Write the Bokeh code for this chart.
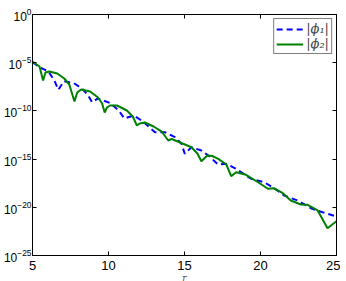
from bokeh.plotting import figure
from bokeh.models import (Range1d, LogAxis, LinearAxis, FixedTicker, CustomJSTickFormatter,
                          Legend, LegendItem)
from bokeh.embed import file_html
from bokeh.resources import INLINE

# |phi_1| (blue dashed)
r1 = [5.00, 5.46, 6.05, 6.44, 6.70, 7.07, 7.73, 8.27, 8.66, 8.92, 9.31, 10.12, 10.67, 11.05,
      11.65, 12.19, 12.71, 13.06, 13.71, 14.37, 14.80, 15.02, 15.46, 16.11, 16.65, 17.20,
      17.75, 18.40, 19.38, 20.25, 20.90, 21.56, 22.43, 23.41, 24.28, 25.00]
phi1 = [1.12e-5, 3.39e-6, 1.23e-6, 1.41e-7, 1.55e-8, 1.20e-7, 7.41e-8, 1.95e-8, 3.98e-9,
        7.94e-10, 1.95e-9, 6.31e-10, 1.10e-10, 1.62e-11, 3.31e-11, 1.00e-11, 1.91e-12,
        6.17e-13, 6.17e-13, 1.86e-13, 3.89e-14, 3.55e-15, 1.70e-14, 7.76e-15, 1.86e-15,
        2.75e-16, 3.24e-16, 9.77e-17, 9.12e-18, 3.98e-18, 9.55e-19, 1.66e-19, 5.13e-20,
        6.92e-21, 2.45e-21, 1.12e-21]

# |phi_2| (green solid)
r2 = [5.00, 5.46, 5.70, 5.85, 6.11, 6.63, 7.09, 7.42, 7.76, 7.94, 8.20, 8.79, 9.31, 9.58,
      9.75, 9.90, 10.10, 10.56, 11.21, 11.60, 11.86, 12.06, 12.39, 12.97, 13.50, 13.93,
      14.15, 14.67, 15.46, 15.85, 16.11, 16.50, 16.83, 17.22, 17.75, 18.07, 18.40, 19.05,
      19.84, 20.49, 20.88, 21.47, 21.99, 22.65, 23.10, 23.76, 24.41, 25.00]
phi2 = [1.32e-5, 4.07e-6, 1.41e-7, 9.55e-7, 1.23e-6, 7.59e-7, 2.29e-7, 5.50e-8, 9.55e-10,
        8.13e-9, 1.66e-8, 1.02e-8, 2.45e-9, 5.89e-10, 6.76e-11, 2.24e-10, 3.63e-10,
        3.63e-10, 1.10e-10, 2.63e-11, 3.09e-12, 4.90e-12, 6.31e-12, 2.40e-12, 7.24e-13,
        8.51e-14, 1.23e-13, 5.62e-14, 1.70e-14, 3.80e-15, 6.03e-16, 2.34e-15, 2.09e-15,
        1.07e-15, 2.75e-16, 1.70e-17, 4.37e-17, 2.34e-17, 3.98e-18, 8.32e-19, 9.55e-19,
        2.88e-19, 5.13e-20, 1.95e-20, 1.82e-20, 4.68e-21, 6.76e-23, 3.63e-22]

x_ticks = [5, 10, 15, 20, 25]
y_ticks = [1.0, 1e-5, 1e-10, 1e-15, 1e-20, 1e-25]
labels = ["|\u03d5\u2081|", "|\u03d5\u2082|"]

p = figure(frame_width=304, frame_height=241, output_backend="svg", toolbar_location=None,
           x_axis_type="linear", y_axis_type="log",
           x_range=Range1d(5, 25), y_range=Range1d(1e-25, 1.0),
           min_border_left=0, min_border_right=4, min_border_top=14, min_border_bottom=0)
p.background_fill_color = "white"
p.border_fill_color = "white"
p.grid.visible = False
p.outline_line_color = "black"

for ax in (p.xaxis[0], p.yaxis[0]):
    ax.major_tick_in = 4
    ax.major_tick_out = 0
    ax.minor_tick_in = 0
    ax.minor_tick_out = 0
    ax.axis_line_color = "black"
    ax.major_label_text_font = "Liberation Sans"
    ax.major_label_text_color = "black"
p.xaxis.major_label_text_font_size = "13px"
p.yaxis.major_label_text_font_size = "12px"
p.xaxis.ticker = FixedTicker(ticks=x_ticks)
p.yaxis.ticker = FixedTicker(ticks=y_ticks)
p.xaxis.major_label_standoff = 5
p.yaxis.major_label_standoff = 1
p.xaxis.axis_label = "r"
p.xaxis.axis_label_text_font = "DejaVu Serif"
p.xaxis.axis_label_text_font_style = "italic"
p.xaxis.axis_label_text_font_size = "9px"
p.xaxis.axis_label_standoff = 0

blank = CustomJSTickFormatter(code="return ''")
top = LinearAxis(ticker=FixedTicker(ticks=x_ticks), formatter=blank,
                 major_tick_in=4, major_tick_out=0, minor_tick_in=0, minor_tick_out=0,
                 major_label_standoff=0, major_label_text_font_size="0px")
right = LogAxis(ticker=FixedTicker(ticks=y_ticks), formatter=blank,
                major_tick_in=4, major_tick_out=0, minor_tick_in=0, minor_tick_out=0,
                major_label_standoff=0, major_label_text_font_size="0px")
p.add_layout(top, "above")
p.add_layout(right, "right")

l1 = p.line(r1, phi1, line_color="#0000ff", line_width=2, line_dash="6 4")
l2 = p.line(r2, phi2, line_color="#008000", line_width=2)

legend = Legend(items=[LegendItem(label=labels[0], renderers=[l1]),
                       LegendItem(label=labels[1], renderers=[l2])],
                location="top_right", margin=4, padding=2, spacing=0,
                glyph_width=27, glyph_height=14, label_standoff=3,
                label_text_font="DejaVu Serif", label_text_font_size="13px",
                label_text_font_style="italic",
                border_line_color="black", border_line_width=1,
                background_fill_alpha=1.0)
p.add_layout(legend)

open("out.html", "w").write(file_html(p, INLINE))
